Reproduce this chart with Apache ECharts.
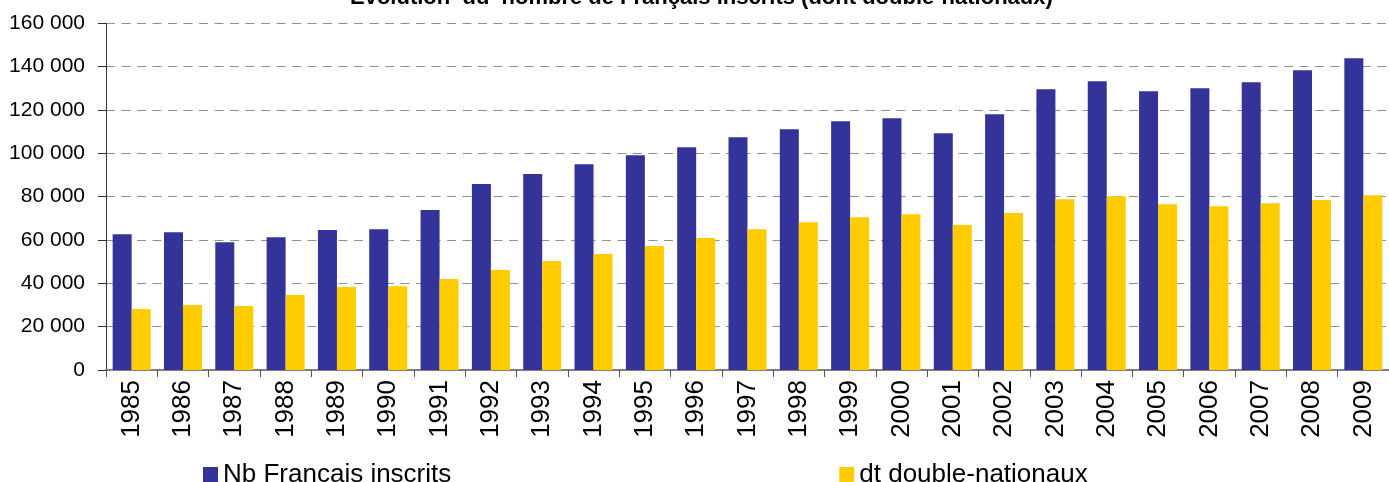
<!DOCTYPE html>
<html>
<head>
<meta charset="utf-8">
<script src="https://cdn.jsdelivr.net/npm/echarts@6/dist/echarts.min.js"></script>
<style>
html,body{margin:0;padding:0;background:#fff;}
#chart{width:1389px;height:482px;}
</style>
</head>
<body>
<div id="chart"></div>
<script>
var titleText = 'Evolution  du  nombre de Français inscrits (dont double-nationaux)';
var years = ['1985','1986','1987','1988','1989','1990','1991','1992','1993','1994','1995','1996','1997','1998','1999','2000','2001','2002','2003','2004','2005','2006','2007','2008','2009'];
var inscrits = [62700,63600,59000,61300,64600,65000,73800,85800,90400,95000,99100,102800,107400,111100,114800,116200,109300,118000,129600,133300,128600,130000,132800,138300,143900];
var doubleNationaux = [28100,30000,29500,34600,38300,38700,42000,46100,50300,53500,57200,60900,65000,68200,70500,71900,66900,72400,78800,80200,76500,75600,77000,78400,80700];
var seriesNames = ['Nb Français inscrits','dt double-nationaux'];

function fmt(v){ return String(v).replace(/\B(?=(\d{3})+(?!\d))/g,' '); }

var chart = echarts.init(document.getElementById('chart'), null, {renderer:'canvas'});
chart.setOption({
  animation:false,
  backgroundColor:'#fff',
  textStyle:{fontFamily:'Liberation Sans, Arial, sans-serif'},
  title:{
    text:titleText,
    left:345, top:-18,
    textStyle:{fontFamily:'Liberation Sans, Arial, sans-serif',fontWeight:'bold',fontSize:22,color:'#000'}
  },
  legend:{
    data:seriesNames,
    left:198, top:457,
    itemWidth:15, itemHeight:16, itemGap:388,
    icon:'rect',
    textStyle:{fontSize:26,color:'#000',fontFamily:'Liberation Sans, Arial, sans-serif'}
  },
  grid:{left:106, right:-7, top:23.3, bottom:112, containLabel:false},
  xAxis:{
    type:'category',
    data:years,
    axisLine:{lineStyle:{color:'#808080',width:2}},
    axisTick:{show:true,alignWithLabel:false,length:7,lineStyle:{color:'#555',width:1}},
    axisLabel:{rotate:90,fontSize:26,color:'#000',margin:10,interval:0,fontFamily:'Liberation Sans, Arial, sans-serif'}
  },
  yAxis:{
    type:'value',
    min:0,max:160000,interval:20000,
    axisLine:{show:true,lineStyle:{color:'#333',width:1}},
    axisTick:{show:true,length:8,lineStyle:{color:'#333',width:1}},
    axisLabel:{fontSize:21,color:'#000',margin:21,formatter:fmt,fontFamily:'Liberation Sans, Arial, sans-serif'},
    splitLine:{show:true,lineStyle:{color:'#909090',width:1,type:[9,6.5]}}
  },
  series:[
    {name:seriesNames[0],type:'bar',data:inscrits,barWidth:19,barGap:'0%',itemStyle:{color:'#333399'}},
    {name:seriesNames[1],type:'bar',data:doubleNationaux,barWidth:19,barGap:'0%',itemStyle:{color:'#FFCC00'}}
  ]
});
</script>
</body>
</html>
